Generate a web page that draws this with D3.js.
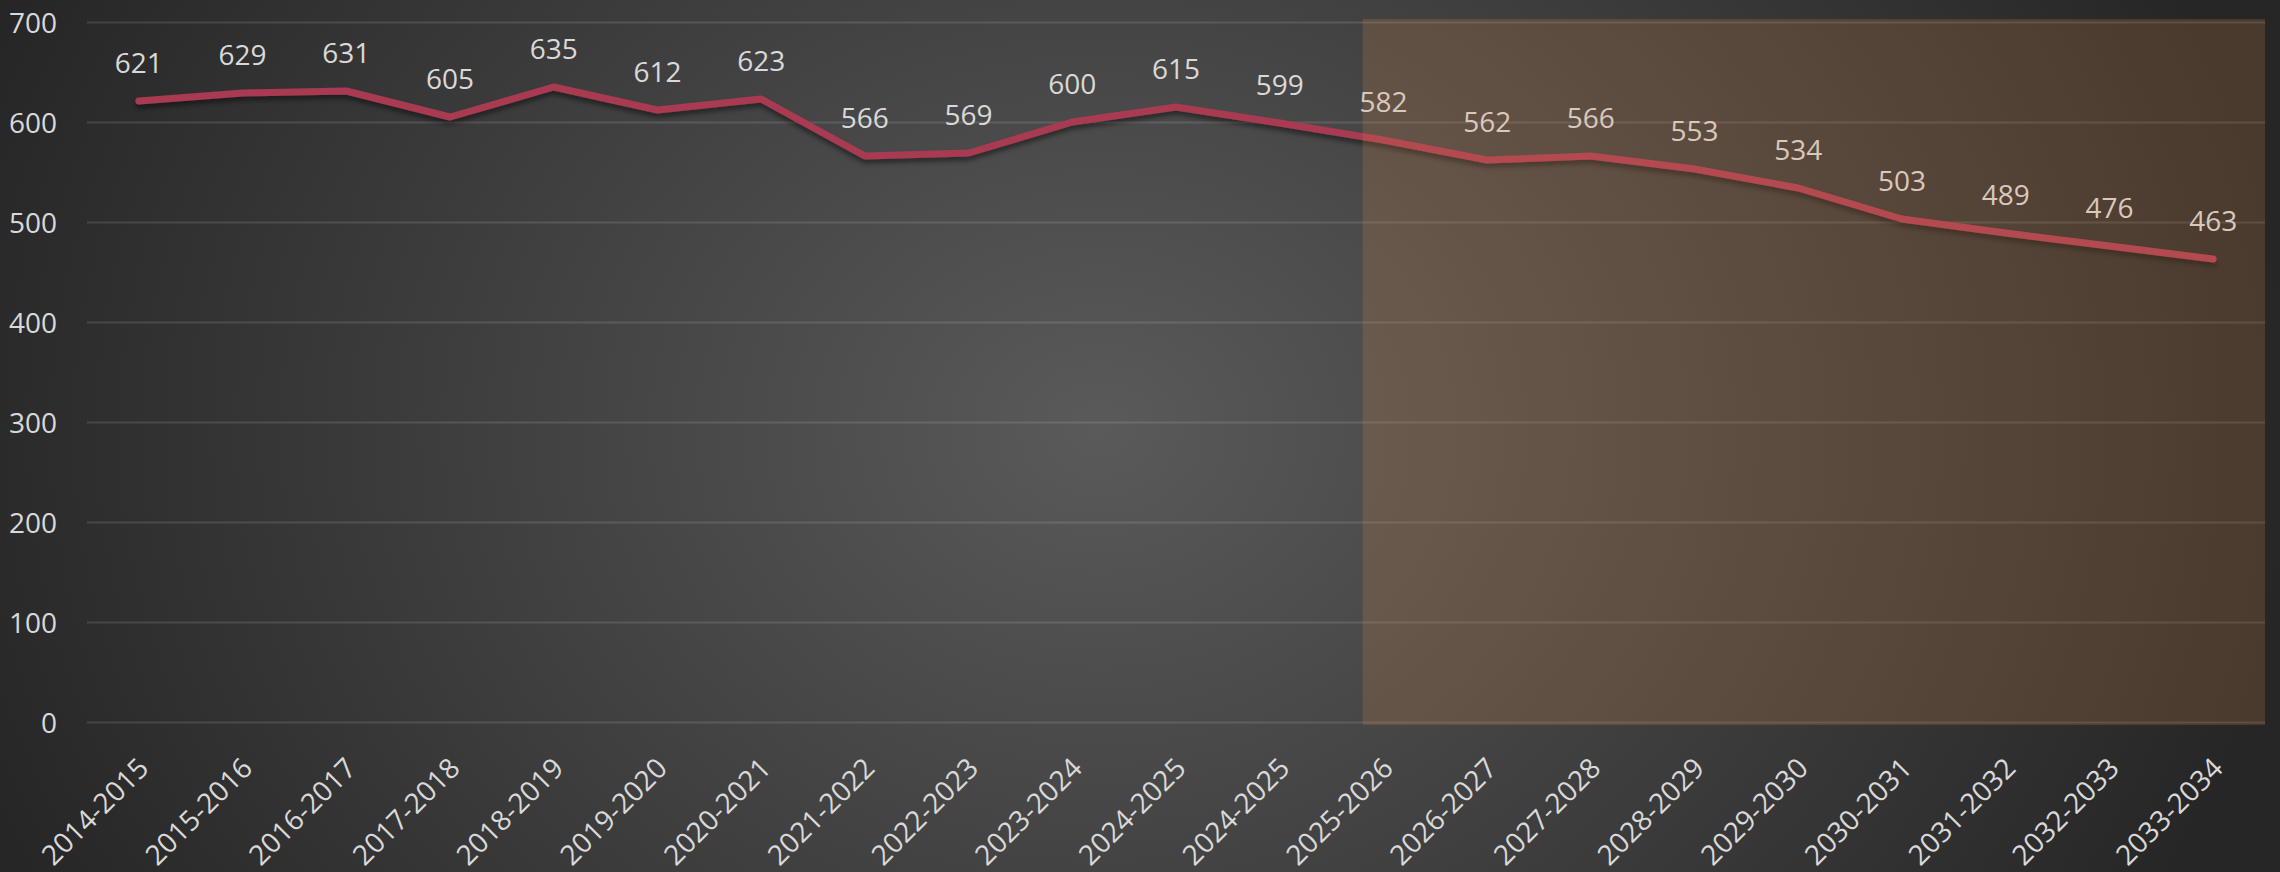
<!DOCTYPE html>
<html>
<head>
<meta charset="utf-8">
<script src="https://cdn.jsdelivr.net/npm/d3@7"></script>
<style>
  html, body { margin: 0; padding: 0; background: #2a2a2a; }
  svg { display: block; }
</style>
</head>
<body>
<svg id="chart" width="2280" height="872"></svg>
<script>
// ---- data ----
const categories = ["2014-2015","2015-2016","2016-2017","2017-2018","2018-2019","2019-2020","2020-2021",
  "2021-2022","2022-2023","2023-2024","2024-2025","2024-2025","2025-2026","2026-2027","2027-2028",
  "2028-2029","2029-2030","2030-2031","2031-2032","2032-2033","2033-2034"];
const values = [621,629,631,605,635,612,623,566,569,600,615,599,582,562,566,553,534,503,489,476,463];
const yTicks = [0,100,200,300,400,500,600,700];
const yDomain = [0,700];
const shadeFromIndex = 11.8;   // projection band starts between 2024-2025 and 2025-2026

// ---- layout ----
const W = 2280, H = 872;
const plot = {left: 87, right: 2265, top: 22, bottom: 722};
const FONT = "'Open Sans', 'Noto Sans', sans-serif";
const TEXT = "#d9d9d9";

const svg = d3.select("#chart");
const defs = svg.append("defs");

const bg = defs.append("radialGradient").attr("id","bg")
  .attr("gradientUnits","userSpaceOnUse")
  .attr("cx",1100).attr("cy",430).attr("r",1200)
  .attr("gradientTransform","translate(1100,430) scale(1,0.83) translate(-1100,-430)");
bg.append("stop").attr("offset","0").attr("stop-color","#5a5a5a");
bg.append("stop").attr("offset","1").attr("stop-color","#262626");

const sh = defs.append("filter").attr("id","shadow").attr("x","-5%").attr("y","-50%").attr("width","110%").attr("height","200%");
sh.append("feDropShadow").attr("dx",0).attr("dy",4).attr("stdDeviation",2.5)
  .attr("flood-color","#000").attr("flood-opacity",0.45);

svg.append("rect").attr("width",W).attr("height",H).attr("fill","url(#bg)");

const x = d3.scaleLinear().domain([-0.5, categories.length - 0.5]).range([plot.left, plot.right]);
const y = d3.scaleLinear().domain(yDomain).range([plot.bottom, plot.top]);

// gridlines + y labels
const yAxis = svg.append("g").attr("transform",`translate(${plot.left},0)`)
  .call(d3.axisLeft(y).tickValues(yTicks).tickSize(-(plot.right-plot.left)).tickPadding(30));
yAxis.select(".domain").remove();
yAxis.selectAll(".tick line").attr("stroke","#ffffff").attr("stroke-opacity",0.12).attr("stroke-width",2);
yAxis.selectAll(".tick text").attr("fill",TEXT).attr("font-family",FONT).attr("font-size",28)
  .attr("x",-30).attr("dy","0.36em");

// x labels
const xAxis = svg.append("g").attr("transform",`translate(0,${plot.bottom})`)
  .call(d3.axisBottom(x).tickValues(d3.range(categories.length)).tickFormat(i => categories[i]).tickSize(0));
xAxis.select(".domain").remove();
xAxis.selectAll(".tick text")
  .attr("fill",TEXT).attr("font-family",FONT).attr("font-size",28)
  .attr("text-anchor","end").attr("dy",0).attr("y",0)
  .attr("transform","translate(11,48) rotate(-45)");

// line
const line = d3.line().x((d,i) => x(i)).y(d => y(d));
svg.append("path").datum(values)
  .attr("d", line)
  .attr("fill","none").attr("stroke","#a83a51").attr("stroke-width",7)
  .attr("stroke-linejoin","round").attr("stroke-linecap","round")
  .attr("filter","url(#shadow)");

// data labels
svg.append("g").selectAll("text").data(values).join("text")
  .attr("x",(d,i) => x(i)).attr("y", d => y(d) - 28)
  .attr("text-anchor","middle")
  .attr("fill",TEXT).attr("font-family",FONT).attr("font-size",28)
  .text(d => d);

// projection shading on top
svg.append("rect")
  .attr("x", x(shadeFromIndex)).attr("y", y(yDomain[1]) - 3)
  .attr("width", plot.right - x(shadeFromIndex))
  .attr("height", y(yDomain[0]) - y(yDomain[1]) + 6)
  .attr("fill","rgb(220,135,75)").attr("fill-opacity",0.2);
</script>
</body>
</html>
